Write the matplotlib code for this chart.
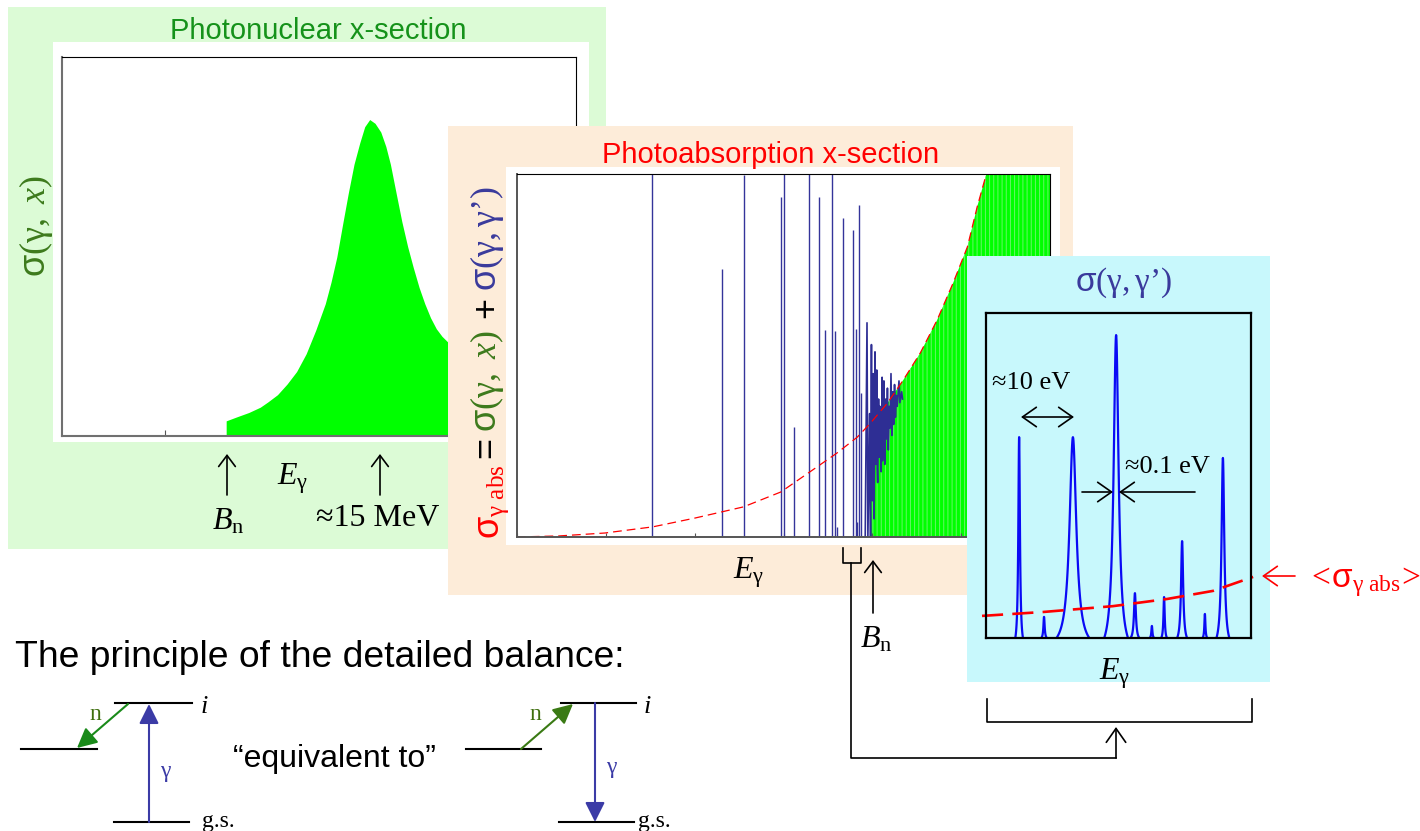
import numpy as np
import matplotlib
matplotlib.use('Agg')
import matplotlib.pyplot as plt
from matplotlib.patches import Rectangle, FancyArrowPatch
from matplotlib.lines import Line2D
from matplotlib.transforms import Affine2D

W, H = 1420, 831

plt.rcParams['mathtext.fontset'] = 'custom'
plt.rcParams['mathtext.rm'] = 'Liberation Serif'
plt.rcParams['mathtext.it'] = 'Liberation Serif:italic'
plt.rcParams['mathtext.sf'] = 'Liberation Sans'
plt.rcParams['hatch.linewidth'] = 0.7

# photonuclear x-section (giant resonance), arb. units
gdr_E = [3.194, 3.410, 3.634, 3.857, 4.006, 4.192, 4.378, 4.564, 4.750, 4.936, 5.122,
         5.234, 5.346, 5.457, 5.570, 5.681, 5.792, 5.889, 5.986, 6.090, 6.202, 6.300,
         6.389, 6.500, 6.611, 6.724, 6.835, 6.947, 7.058, 7.170, 7.282, 7.393, 7.520,
         8.0, 9.0, 10.0]
gdr_sigma = [0.040, 0.051, 0.062, 0.076, 0.090, 0.109, 0.137, 0.170, 0.217, 0.279, 0.349,
             0.406, 0.472, 0.557, 0.641, 0.717, 0.773, 0.816, 0.835, 0.825, 0.802, 0.764,
             0.717, 0.641, 0.566, 0.500, 0.444, 0.392, 0.349, 0.312, 0.283, 0.263, 0.246,
             0.19, 0.12, 0.085]

# photoabsorption: smooth average (red dashed)
abs_E = [0.00, 0.48, 0.99, 1.53, 2.00, 2.55, 2.97, 3.33, 3.60, 3.83, 3.98, 4.17,
         4.35, 4.54, 4.73, 4.91, 5.07, 5.18, 5.28, 5.40, 6.00]
abs_sigma = [0.000, 0.003, 0.011, 0.028, 0.052, 0.083, 0.124, 0.185, 0.231, 0.275, 0.314, 0.369,
             0.433, 0.507, 0.598, 0.700, 0.799, 0.909, 0.997, 1.12, 2.0]

# isolated (gamma,gamma') resonances below Bn
res_E = [1.52, 2.31, 2.55, 2.97, 3.01, 3.12, 3.29, 3.40, 3.47, 3.55, 3.58, 3.60,
         3.67, 3.78, 3.82, 3.83, 3.85, 3.87]
res_h = [1.05, 0.738, 0.997, 0.937, 1.05, 0.303, 1.05, 0.937, 0.570, 1.05, 0.567, 0.028,
         0.88, 0.846, 0.573, 0.04, 0.915, 0.397]

# unresolved region around Bn
dense_E = [3.92, 3.94, 3.95, 3.97, 3.975, 3.98, 3.99, 3.995, 4.00, 4.01, 4.02, 4.025, 4.03,
           4.04, 4.05, 4.055, 4.06, 4.07, 4.08, 4.085, 4.09, 4.10, 4.11, 4.115, 4.12, 4.13,
           4.14, 4.145, 4.15, 4.16, 4.17, 4.18, 4.19, 4.20, 4.21, 4.22, 4.23, 4.24, 4.25,
           4.26, 4.27, 4.28, 4.30, 4.31, 4.33, 4.34]
dense_s = [0.0, 0.59, 0.0, 0.34, 0.12, 0.0, 0.53, 0.20, 0.10, 0.45, 0.05, 0.30, 0.51,
           0.20, 0.46, 0.19, 0.15, 0.38, 0.22, 0.36, 0.34, 0.18, 0.44, 0.21, 0.25, 0.43,
           0.20, 0.33, 0.38, 0.27, 0.41, 0.24, 0.36, 0.30, 0.45, 0.28, 0.40, 0.31, 0.42,
           0.33, 0.39, 0.36, 0.43, 0.37, 0.40, 0.38]

# zoom on (gamma,gamma') resonances
peak_E = [1.25, 2.19, 3.28, 4.91, 5.62, 6.26, 6.72, 7.40, 8.26, 8.94]
peak_h = [0.618, 0.065, 0.618, 0.932, 0.138, 0.037, 0.126, 0.298, 0.074, 0.554]
peak_w = [0.145, 0.113, 0.62, 0.45, 0.17, 0.094, 0.113, 0.19, 0.094, 0.245]
mean_E = [-0.15, 2.15, 4.79, 6.83, 8.57, 10.08]
mean_sigma = [0.068, 0.080, 0.098, 0.120, 0.145, 0.188]

fig = plt.figure(figsize=(W / 100, H / 100), dpi=100)
px = Affine2D().scale(1.0 / W, -1.0 / H).translate(0, 1) + fig.transFigure


def box(x0, y0, x1, y1, color, z):
    fig.add_artist(Rectangle((x0, y0), x1 - x0, y1 - y0, transform=px,
                             facecolor=color, edgecolor='none', zorder=z))


def axes_box(x0, y0, x1, y1, z):
    return fig.add_axes([x0 / W, 1 - y1 / H, (x1 - x0) / W, (y1 - y0) / H], zorder=z)


def label(x, y, s, size, color='black', family='Liberation Serif', ha='center', va='center', **kw):
    fig.text(x, y, s, transform=px, fontsize=size, color=color, family=family,
             ha=ha, va=va, zorder=5, **kw)


def arrow(p0, p1, color='black', lw=1.2, style='->,head_length=0.4,head_width=0.3'):
    fig.add_artist(FancyArrowPatch(p0, p1, arrowstyle=style, mutation_scale=20, color=color,
                                   lw=lw, transform=px, shrinkA=0, shrinkB=0, zorder=5))


def polyline(xs, ys, color='black', lw=1.2):
    fig.add_artist(Line2D(xs, ys, transform=px, color=color, lw=lw, zorder=5))


SIG_XG = r'$\mathsf{\sigma}(\mathrm{\gamma},\ x)$'
SIG_GG = r'$\mathsf{\sigma}(\mathrm{\gamma},\mathrm{\gamma’})$'
SIG_ABS = r'$\mathsf{\sigma}_{\mathrm{\gamma\ abs}}$'
E_G = r'$E_{\mathrm{\gamma}}$'
B_N = r'$B_{\mathrm{n}}$'
DKGREEN = '#3d7a1c'
DKBLUE = '#3a3a9c'

# ---------- panel 1: photonuclear ----------
box(8, 7, 606, 549, '#dcfbd6', 0)
box(53, 42, 589, 442, 'white', 0.05)
ax1 = axes_box(62, 57, 576, 436, 0.1)
ax1.fill_between(gdr_E, 0, gdr_sigma, color='#00ff00', lw=0)
ax1.set_xlim(0, 10)
ax1.set_ylim(0, 1)
ax1.set_xticks([2, 4, 6, 8])
ax1.set_yticks([])
ax1.tick_params(direction='in', length=4, labelbottom=False, color='#555555')
ax1.set_axisbelow(True)
for s in ['left', 'bottom']:
    ax1.spines[s].set_color('#707070')
    ax1.spines[s].set_linewidth(1.5)
for s in ['top', 'right']:
    ax1.spines[s].set_linewidth(0.8)

label(318, 39, 'Photonuclear x-section', 21, color='#15921a', family='Liberation Sans', va='baseline')
label(36, 226, SIG_XG, 26, color=DKGREEN, rotation=90)
arrow((227, 495), (227, 454))
arrow((380, 495), (380, 454))
label(228, 522, B_N, 23)
label(293, 479, E_G, 23)
label(378, 518, '≈15 MeV', 23)

# ---------- panel 2: photoabsorption ----------
box(448, 126, 1073, 595, '#fdecd9', 1)
box(506, 167, 1060, 545, 'white', 1.05)
ax2 = axes_box(517, 174, 1050, 537, 1.1)
aE = np.array(abs_E)
aS = np.array(abs_sigma)
m = aE >= 3.98
ax2.fill_between(aE[m], 0, aS[m], facecolor='#00ff00', edgecolor='#6af56a', hatch='||||', lw=0)
ax2.vlines(res_E, 0, res_h, color='#34349a', lw=1.0)
ax2.plot(dense_E, dense_s, color='#2e2e94', lw=1.2)
ax2.plot(abs_E, abs_sigma, color='red', lw=0.9, dashes=(7, 4))
ax2.set_xlim(0, 6)
ax2.set_ylim(0, 1)
ax2.set_xticks(range(7))
ax2.set_yticks([])
ax2.tick_params(direction='in', length=3, labelbottom=False, color='#555555')
for s in ['left', 'bottom']:
    ax2.spines[s].set_color('#555555')
    ax2.spines[s].set_linewidth(1.4)
for s in ['top', 'right']:
    ax2.spines[s].set_linewidth(0.8)

label(771, 163, 'Photoabsorption x-section', 21, color='red', family='Liberation Sans', va='baseline')
label(494, 502, SIG_ABS, 26, color='red', rotation=90)
label(487, 448, '=', 26, family='Liberation Sans', rotation=90)
label(487, 381, SIG_XG, 26, color=DKGREEN, rotation=90)
label(487, 308, '+', 26, family='Liberation Sans', rotation=90)
label(487, 239, SIG_GG, 26, color=DKBLUE, rotation=90)
label(749, 573, E_G, 23)
arrow((873, 613), (873, 560))
label(876, 640, B_N, 23)

# ---------- panel 3: (gamma,gamma') resonances ----------
box(967, 256, 1270, 682, '#c8f8fc', 2)
ax3 = axes_box(986, 313, 1251, 638, 2.1)
ax3.patch.set_alpha(0)
for e0, h, w in zip(peak_E, peak_h, peak_w):
    x = np.linspace(e0 - w, e0 + w, 121)
    g = w / 4
    lor = 1 / (1 + ((x - e0) / g) ** 2)
    cut = 1 / (1 + 16)
    ax3.plot(x, h * (lor - cut) / (1 - cut), color='#0a0af5', lw=1.6)
ax3.plot(mean_E, mean_sigma, color='red', lw=1.9, dashes=(8, 3.5), clip_on=False)
ax3.set_xlim(0, 10)
ax3.set_ylim(0, 1)
ax3.set_xticks([])
ax3.set_yticks([])
for s in ax3.spines.values():
    s.set_linewidth(1.6)

label(1124, 283, SIG_GG, 24, color=DKBLUE)
label(1031, 383, '≈10 eV', 19)
arrow((1021, 417), (1074, 417), style='<->,head_length=0.5,head_width=0.35')
label(1167, 467, '≈0.1 eV', 19)
arrow((1082, 492), (1113, 492), style='->,head_length=0.5,head_width=0.35')
arrow((1195, 492), (1119, 492), style='->,head_length=0.5,head_width=0.35')
label(1115, 674, E_G, 23)
arrow((1295, 576), (1262, 576), color='red', style='->,head_length=0.5,head_width=0.35')
label(1364, 582, r'$\mathrm{<}\!\mathsf{\sigma}_{\mathrm{\gamma\ abs}}\!\mathrm{>}$', 24, color='red')

# connectors
polyline([987, 987, 1252, 1252], [699, 722, 722, 699])
polyline([843, 843, 861, 861], [548, 563, 563, 548])
polyline([851, 851, 1116], [563, 758, 758])
arrow((1116, 758), (1116, 727), style='->,head_length=0.5,head_width=0.35')

# ---------- detailed balance ----------
label(15, 667, 'The principle of the detailed balance:', 26.8, family='Liberation Sans', ha='left', va='baseline')
label(334, 767, '“equivalent to”', 23, family='Liberation Sans', va='baseline')

GAM = '#3b3ba6'
fill_head = '-|>,head_length=0.6,head_width=0.3'
# left scheme
polyline([115, 192], [703, 703], lw=1.5)
polyline([114, 189], [822, 822], lw=1.5)
polyline([21, 97], [749, 749], lw=1.5)
arrow((149, 822), (149, 704), color=GAM, lw=1.5, style=fill_head)
arrow((128, 704), (77, 748), color='#1a8a1a', lw=1.5, style=fill_head)
label(95, 715, 'n', 17, color='#3f6f0f')
label(165, 772, 'γ', 17, color=GAM)
label(204, 707, 'i', 19, style='italic')
label(202, 822, 'g.s.', 17, ha='left')
# right scheme
polyline([561, 636], [703, 703], lw=1.5)
polyline([559, 634], [822, 822], lw=1.5)
polyline([466, 541], [749, 749], lw=1.5)
arrow((521, 749), (573, 704), color='#3a7a14', lw=1.5, style=fill_head)
arrow((595, 703), (595, 822), color=GAM, lw=1.5, style=fill_head)
label(535, 715, 'n', 17, color='#3f6f0f')
label(611, 767, 'γ', 17, color=GAM)
label(647, 707, 'i', 19, style='italic')
label(638, 822, 'g.s.', 17, ha='left')

fig.savefig('out.png', dpi=100)
